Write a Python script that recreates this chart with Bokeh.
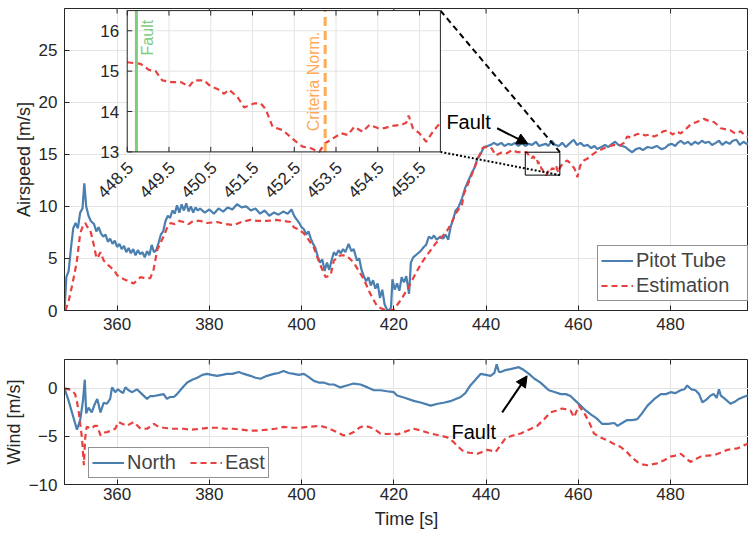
import math
from bokeh.plotting import figure
from bokeh.layouts import column
from bokeh.models import (Range1d, FixedTicker, Legend, LegendItem, Arrow, NormalHead)
from bokeh.core.properties import value
from bokeh.embed import file_html
from bokeh.resources import INLINE

# ---------------------------------------------------------------- data
# Airspeed measured by the pitot tube [m/s]
pitot_t = [348.6, 349.0, 349.5, 350.0, 350.5, 351.0, 351.5, 352.0, 352.5, 352.9, 353.3, 353.8,
           354.3, 355.0, 355.5, 356.0, 356.5, 357.0, 357.5, 358.0, 358.5, 359.0, 359.5, 360.0,
           360.5, 361.0, 361.5, 362.0, 362.5, 363.0, 363.5, 364.0, 364.5, 365.0, 365.5, 366.0,
           366.5, 367.0, 367.5, 368.0, 368.5, 369.0, 369.5, 370.0, 370.5, 371.0, 371.5, 372.0,
           372.5, 373.0, 373.5, 374.0, 374.5, 375.0, 375.5, 376.0, 376.5, 377.0, 377.5, 378.0,
           379.0, 380.0, 381.0, 382.0, 383.0, 384.0, 385.0, 386.0, 387.0, 388.0, 389.0, 390.0,
           391.0, 392.0, 393.0, 394.0, 395.0, 396.0, 397.0, 397.8, 398.5, 399.0, 399.5, 400.0,
           400.5, 401.0, 401.5, 402.0, 402.5, 403.0, 403.5, 404.0, 404.5, 405.0, 405.5, 406.0,
           406.5, 407.0, 407.5, 408.0, 408.5, 409.0, 409.5, 410.2, 410.8, 411.3, 412.0, 412.5,
           413.0, 413.5, 414.0, 414.5, 415.0, 415.5, 416.0, 416.5, 417.0, 417.5, 418.0, 418.5,
           419.0, 419.4, 419.7, 420.2, 420.7, 421.2, 421.7, 422.2, 422.7, 423.3, 423.7, 424.2,
           425.0, 425.8, 426.5, 427.0, 427.6, 428.2, 428.7, 429.3, 430.1, 430.7, 431.2, 431.8,
           432.3, 432.9, 433.4, 434.0, 434.8, 435.5, 436.3, 437.0, 437.5, 438.1, 438.8, 439.5,
           440.3, 441.0, 441.7, 442.5, 443.3, 444.0, 444.8, 445.5, 446.3, 447.0, 447.8, 448.5,
           449.2, 450.0, 450.8, 451.5, 452.2, 453.0, 453.5, 454.2, 455.0, 455.8, 456.5, 457.3,
           458.0, 459.0, 459.7, 460.5, 461.2, 462.0, 462.8, 463.5, 464.1, 465.0, 465.8, 466.5,
           467.3, 468.0, 468.7, 469.5, 470.2, 471.0, 471.7, 472.5, 473.3, 474.0, 475.0, 476.0,
           477.0, 478.0, 478.8, 479.5, 480.3, 481.0, 481.6, 482.2, 483.0, 483.8, 484.5, 485.3,
           486.0, 486.8, 487.5, 488.3, 489.0, 489.8, 490.5, 491.2, 492.0, 492.8, 493.5, 494.3,
           495.0, 495.8, 496.5, 497.0]
pitot_v = [0.0, 3.2, 3.8, 6.0, 7.9, 8.4, 7.9, 9.4, 9.8, 12.2, 10.0, 9.1,
           8.6, 8.3, 7.6, 8.0, 7.4, 7.1, 7.3, 6.6, 6.9, 6.4, 6.7, 6.1,
           6.4, 5.9, 6.2, 5.6, 6.0, 5.5, 5.9, 5.3, 5.8, 5.4, 5.6, 5.1,
           5.7, 5.3, 6.3, 5.6, 5.8, 6.5, 7.3, 7.6, 8.6, 9.1, 8.9, 9.6,
           9.3, 10.1, 9.4, 10.2, 9.6, 10.3, 9.5, 10.0, 9.4, 9.9, 9.6, 9.8,
           9.4, 9.7, 9.3, 9.8, 9.5, 9.9, 9.7, 10.2, 9.9, 10.0, 9.6, 9.8,
           9.3, 9.6, 9.1, 9.4, 9.2, 9.5, 9.3, 9.7, 9.0, 8.7, 8.4, 8.0,
           7.8, 7.3, 7.6, 6.9, 6.4, 6.0, 5.2, 4.6, 4.9, 3.8, 4.6, 3.9,
           4.8, 5.6, 5.3, 5.8, 5.5, 5.9, 5.6, 6.4, 5.7, 5.9, 4.8, 5.0,
           3.9, 3.3, 2.8, 3.2, 2.4, 2.9, 2.1, 2.6, 1.2, 2.0, 0.6, 0.1,
           0.0, 0.3, 3.0, 2.0, 2.6, 1.9, 3.2, 2.7, 3.3, 1.6, 4.6, 5.1,
           5.4, 5.7, 6.1, 6.3, 7.1, 6.9, 7.2, 6.8, 7.1, 6.9, 7.3, 6.8,
           8.0, 8.8, 9.6, 9.9, 10.8, 11.8, 12.6, 13.3, 13.7, 14.6, 15.0, 15.7,
           15.8, 15.9, 16.1, 15.9, 16.1, 15.8, 16.0, 15.9, 16.1, 15.8, 16.1, 15.8,
           16.0, 15.9, 16.2, 15.8, 15.9, 16.0, 15.8, 16.3, 15.9, 15.8, 16.1, 15.7,
           16.0, 16.4, 15.9, 16.1, 15.8, 15.9, 15.6, 15.8, 15.5, 15.7, 15.9, 15.7,
           16.0, 16.2, 15.9, 15.8, 15.7, 15.4, 15.2, 15.5, 15.6, 15.4, 15.7, 15.6,
           15.8, 15.5, 15.6, 15.9, 16.0, 15.8, 16.1, 16.3, 16.0, 16.2, 15.9, 16.2,
           16.0, 16.3, 16.1, 16.2, 15.9, 16.1, 16.3, 15.9, 16.2, 16.0, 16.3, 16.4,
           15.9, 16.2, 16.0, 16.1]

# Estimated airspeed [m/s]
est_t = [348.8, 349.5, 350.2, 350.8, 351.3, 352.0, 352.5, 353.1, 353.6, 354.2, 354.9, 355.4,
         355.7, 356.4, 357.1, 358.2, 359.3, 360.0, 360.7, 361.5, 362.5, 363.6, 364.3, 365.1,
         366.0, 367.2, 367.9, 368.7, 369.4, 370.1, 370.8, 371.6, 372.5, 373.5, 374.4, 375.5,
         376.5, 378.1, 379.5, 381.7, 383.5, 385.3, 387.0, 388.9, 390.5, 392.5, 394.5, 396.1,
         397.6, 398.3, 399.3, 400.5, 401.5, 402.6, 403.5, 404.5, 405.2, 406.3, 407.0, 408.4,
         409.5, 410.4, 411.3, 412.4, 413.5, 414.9, 416.4, 417.8, 419.0, 420.0, 421.5, 422.9,
         424.3, 425.8, 427.0, 428.0, 429.0, 430.1, 431.6, 432.5, 433.4, 434.8, 435.2, 436.5,
         438.1, 439.2, 440.2, 441.0, 442.1, 443.5, 444.5, 445.7, 446.8, 447.8,
         448.50, 448.66, 448.82, 449.02, 449.18, 449.34, 449.54, 449.78, 449.98, 450.10,
         450.34, 450.50, 450.66, 450.82, 450.94, 451.14, 451.30, 451.54, 451.70, 451.82,
         451.98, 452.22, 452.50, 452.70, 452.90, 453.10, 453.22, 453.42, 453.62, 453.78,
         453.94, 454.14, 454.30, 454.50, 454.66, 454.82, 455.06, 455.18, 455.24, 455.34,
         455.50, 455.66, 455.82, 455.98,
         456.3, 456.8, 457.6, 458.4, 459.2, 459.8, 460.4, 461.2, 462.0, 462.8, 464.1, 465.2,
         466.2, 467.7, 468.8, 469.9, 470.6, 471.5, 472.5, 473.5, 474.5, 475.5, 476.4, 477.5,
         478.4, 479.3, 480.5, 481.3, 482.2, 483.3, 484.2, 485.1, 486.2, 487.2, 488.3, 489.4,
         490.2, 490.9, 492.0, 493.0, 494.0, 495.2, 496.2, 497.0]
est_v = [0.0, 0.9, 2.3, 3.6, 4.8, 7.4, 8.0, 8.4, 8.0, 7.7, 6.4, 5.3,
         5.0, 5.6, 4.8, 4.3, 3.9, 3.4, 3.2, 3.0, 2.8, 2.6, 2.9, 3.2,
         3.1, 3.1, 3.9, 5.8, 6.5, 7.1, 7.9, 8.4, 8.3, 8.6, 8.5, 8.3,
         8.6, 8.6, 8.4, 8.5, 8.3, 8.2, 8.5, 8.7, 8.6, 8.6, 8.7, 8.6,
         8.5, 8.0, 7.8, 7.4, 6.8, 6.1, 5.0, 3.9, 3.2, 3.4, 4.8, 5.3,
         5.3, 5.0, 4.6, 3.8, 3.0, 1.6, 0.4, 0.1, 0.0, 0.1, 1.0, 2.0,
         3.2, 4.4, 5.2, 5.8, 6.4, 6.9, 7.7, 8.4, 9.3, 10.2, 11.2, 12.6,
         14.4, 15.6, 15.7, 15.7, 14.9, 15.2, 15.1, 15.4, 15.2, 15.2,
         15.22, 15.20, 15.18, 15.03, 15.00, 14.77, 14.73, 14.73, 14.62, 14.77,
         14.77, 14.62, 14.56, 14.44, 14.54, 14.36, 14.10, 14.20, 14.20, 14.05,
         13.62, 13.54, 13.29, 13.13, 13.09, 13.00, 13.20, 13.33, 13.46, 13.42,
         13.62, 13.50, 13.67, 13.59, 13.59, 13.64, 13.67, 13.72, 13.90, 13.59,
         13.46, 13.25, 13.50, 13.70,
         13.9, 14.2, 14.4, 14.1, 13.6, 12.8, 13.9, 14.4, 14.6, 14.9, 15.3, 15.5,
         15.7, 15.9, 15.8, 16.1, 16.7, 16.6, 16.9, 17.0, 16.8, 16.9, 16.7, 16.9,
         17.2, 17.3, 16.9, 17.2, 17.0, 17.4, 17.8, 18.0, 18.2, 18.4, 18.2, 18.1,
         17.8, 17.5, 17.4, 17.3, 17.0, 17.2, 16.8, 16.6]

# Estimated wind components [m/s]
north_t = [348.6, 349.5, 350.4, 351.3, 352.0, 352.6, 353.0, 353.3, 353.8, 354.5, 355.2, 355.7,
           356.4, 357.1, 357.8, 358.5, 358.9, 359.6, 360.2, 360.7, 361.3, 361.8, 362.5, 363.3,
           364.3, 365.4, 366.5, 367.2, 368.0, 369.0, 370.1, 370.8, 371.5, 372.3, 373.0, 373.7,
           374.4, 375.2, 376.3, 377.4, 378.5, 379.5, 380.5, 381.7, 382.8, 383.8, 385.0, 386.4,
           387.5, 388.9, 390.0, 391.1, 392.5, 394.0, 395.0, 396.1, 397.2, 398.3, 399.4, 400.5,
           401.5, 402.6, 403.7, 404.8, 406.0, 407.0, 408.4, 409.8, 411.3, 412.8, 414.3, 415.7,
           417.1, 418.5, 420.0, 420.7, 422.5, 424.3, 426.0, 428.0, 429.5, 430.8, 432.5, 434.5,
           435.5, 436.6, 437.7, 438.8, 440.0, 441.0, 441.8, 442.3, 442.8, 443.2, 444.2, 445.3,
           446.2, 447.1, 448.2, 449.3, 450.5, 451.8, 452.7, 453.6, 455.0, 456.2, 457.3, 458.3,
           459.4, 460.5, 461.6, 462.7, 463.9, 465.2, 466.5, 467.8, 468.5, 469.5, 470.6, 471.7,
           472.8, 473.8, 475.0, 476.5, 477.9, 479.0, 480.0, 481.0, 482.2, 483.0, 483.6, 484.5,
           485.4, 486.2, 486.9, 487.7, 488.7, 489.4, 490.0, 490.5, 490.9, 491.8, 493.0, 493.9,
           494.8, 495.8, 496.7]
north_v = [0.0, -1.3, -2.8, -4.3, -3.3, -1.3, 0.9, -2.6, -2.0, -2.5, -1.6, -1.1,
           -2.5, -1.5, -1.6, -1.1, 0.1, -0.4, -0.1, -0.3, -0.5, 0.1, -0.2, -0.4,
           -0.1, -0.6, -1.1, -0.8, -0.8, -0.7, -0.6, -1.1, -0.9, -0.9, -0.6, -0.2,
           0.2, 0.6, 0.9, 1.1, 1.4, 1.5, 1.4, 1.3, 1.4, 1.5, 1.5, 1.7,
           1.5, 1.3, 1.1, 1.0, 1.3, 1.5, 1.6, 1.8, 1.6, 1.5, 1.4, 1.5,
           1.2, 0.8, 0.6, 0.6, 0.4, 0.4, 0.1, 0.3, 0.5, 0.4, 0.1, -0.2,
           -0.2, -0.3, -0.4, -0.75, -1.0, -1.3, -1.5, -1.8, -1.6, -1.5, -1.3, -0.9,
           -0.5, 0.3, 0.9, 1.5, 1.4, 1.3, 1.6, 2.5, 1.7, 1.7, 1.9, 2.0,
           2.1, 2.2, 1.9, 1.5, 1.0, 0.6, 0.2, -0.2, -0.4, -0.6, -0.6, -0.8,
           -1.3, -1.8, -2.3, -2.7, -3.1, -3.7, -3.7, -3.6, -3.9, -3.6, -3.3, -3.3,
           -3.2, -2.6, -1.8, -1.1, -0.6, -0.6, -0.4, -0.5, -0.2, -0.1, 0.3, -0.1,
           -0.2, -0.6, -1.45, -1.2, -0.75, -0.6, -1.0, -0.1, -0.75, -1.1, -1.6, -1.4,
           -1.1, -0.9, -0.75]

east_t = [348.6, 349.5, 350.2, 350.9, 351.3, 351.7, 352.0, 352.4, 352.8, 353.1, 353.4, 354.0,
          354.5, 355.1, 355.7, 356.4, 357.1, 357.8, 358.7, 359.6, 360.3, 361.2, 362.1, 363.6,
          365.1, 366.5, 368.0, 369.0, 370.1, 372.0, 374.4, 376.0, 378.1, 380.0, 381.7, 383.5,
          385.3, 387.0, 388.9, 390.5, 392.5, 394.3, 396.1, 398.0, 399.7, 401.5, 404.0, 405.5,
          407.0, 409.1, 410.2, 411.3, 412.5, 413.5, 414.5, 415.7, 417.1, 418.5, 420.0, 420.7,
          422.5, 424.3, 426.0, 428.0, 430.0, 431.6, 433.0, 434.0, 435.2, 436.5, 438.1, 439.3,
          440.3, 441.3, 442.1, 443.0, 444.2, 445.8, 447.5, 449.3, 451.1, 452.6, 454.0, 455.3,
          456.5, 457.5, 458.3, 459.1, 459.6, 460.1, 461.2, 462.0, 462.7, 463.4, 464.8, 466.3,
          467.8, 469.2, 470.5, 471.6, 472.8, 473.9, 475.0, 476.0, 477.1, 478.5, 480.0, 481.0,
          482.2, 483.2, 484.3, 485.3, 486.5, 488.0, 489.4, 490.8, 492.3, 493.5, 494.5, 495.6,
          496.7]
east_v = [0.0, -0.1, -0.2, -0.6, -1.4, -2.5, -3.7, -5.2, -8.0, -5.1, -4.0, -4.1,
          -4.2, -3.9, -3.9, -4.9, -4.6, -4.55, -4.4, -4.2, -3.5, -3.7, -3.9, -3.5,
          -4.2, -4.2, -3.7, -4.0, -4.1, -4.2, -4.2, -4.3, -4.2, -4.1, -4.1, -4.2,
          -4.2, -4.3, -4.4, -4.4, -4.3, -4.2, -4.0, -4.1, -4.1, -4.0, -3.9, -4.1,
          -4.4, -4.9, -4.8, -4.55, -4.1, -3.9, -4.0, -4.2, -4.7, -4.75, -4.7, -4.8,
          -4.5, -4.2, -4.4, -4.7, -4.9, -5.1, -5.6, -6.1, -6.6, -6.7, -6.8, -6.6,
          -6.4, -6.5, -6.6, -6.0, -5.2, -4.9, -4.7, -4.3, -3.9, -3.2, -2.5, -2.3,
          -2.1, -2.2, -2.3, -3.0, -2.4, -1.8, -2.5, -3.2, -3.9, -4.7, -5.1, -5.4,
          -5.8, -6.1, -6.6, -7.2, -7.65, -7.9, -8.0, -7.9, -7.8, -7.5, -7.1, -7.0,
          -6.8, -7.2, -7.65, -7.4, -7.1, -7.0, -6.95, -6.7, -6.4, -6.3, -6.25, -6.0,
          -5.75]

# Event times [s]
fault_time = 448.72
criteria_time = 453.24

# Axis ticks
time_ticks = [360, 380, 400, 420, 440, 460, 480]
airspeed_ticks = [0, 5, 10, 15, 20, 25]
wind_ticks = [-10, -5, 0]
zoom_x_ticks = [448.5, 449.5, 450.5, 451.5, 452.5, 453.5, 454.5, 455.5]
zoom_y_ticks = [13, 14, 15, 16]

# ---------------------------------------------------------------- style
FONT = "Liberation Sans"
INK = "#262626"
GRID = "#e4e4e4"
BLUE = "#4a7fb0"
RED = "#e8413f"
GREEN = "#7fcc7f"
ORANGE = "#ffaa55"
DASH = "6 4"
LW = 2.2
TICK = 5  # inward tick length, px

X_RANGE = (348.6, 496.9)
AIR_RANGE = (0, 29)
WIND_RANGE = (-10, 3)
WIDTH = 748
LEFT = 64
AIR_FRAME_H = 302
WIND_FRAME_H = 125


def style_axes(p, x_standoff):
    p.outline_line_color = INK
    p.outline_line_width = 1
    p.background_fill_color = "white"
    p.border_fill_color = "white"
    for ax in p.axis:
        ax.major_tick_in = TICK
        ax.major_tick_out = 0
        ax.minor_tick_in = 0
        ax.minor_tick_out = 0
        ax.axis_line_color = INK
        ax.major_tick_line_color = INK
        ax.major_label_text_font = FONT
        ax.major_label_text_font_size = "17px"
        ax.major_label_text_color = INK
        ax.axis_label_text_font = FONT
        ax.axis_label_text_font_size = "18px"
        ax.axis_label_text_font_style = "normal"
        ax.axis_label_text_color = INK
    p.xaxis.major_label_standoff = x_standoff
    p.yaxis.major_label_standoff = 7
    p.yaxis.axis_label_standoff = 2
    p.grid.grid_line_color = GRID
    p.grid.grid_line_width = 1


def add_top_ticks(p, yr, frame_h):
    # box-style tick marks hanging from the upper edge
    d = TICK * (yr[1] - yr[0]) / frame_h
    n = len(time_ticks)
    p.segment(x0=time_ticks, y0=[yr[1]] * n, x1=time_ticks, y1=[yr[1] - d] * n, line_color=INK, line_width=1)


# ---------------------------------------------------------------- airspeed
p1 = figure(width=WIDTH, height=340, x_range=Range1d(*X_RANGE), y_range=Range1d(*AIR_RANGE),
            output_backend="svg", toolbar_location=None,
            min_border_left=LEFT, min_border_right=0, min_border_top=8, min_border_bottom=30)
p1.xaxis.ticker = FixedTicker(ticks=time_ticks)
p1.yaxis.ticker = FixedTicker(ticks=airspeed_ticks)
p1.yaxis.axis_label = "Airspeed [m/s]"
style_axes(p1, 7)
add_top_ticks(p1, AIR_RANGE, AIR_FRAME_H)

r_pitot = p1.line(pitot_t, pitot_v, line_color=BLUE, line_width=LW)
r_est = p1.line(est_t, est_v, line_color=RED, line_width=LW, line_dash=DASH)

# zoom panel: placed in airspeed coordinates, with its own ranges mapped onto the frame
BOX = (362.2, 430.1, 15.23, 28.8)          # left, right, bottom, top (main axes units)
ZX = (448.5, 456.0)
ZY = (13.0, 16.5)
sx = (ZX[1] - ZX[0]) / (BOX[1] - BOX[0])
sy = (ZY[1] - ZY[0]) / (BOX[3] - BOX[2])
p1.extra_x_ranges = {"zx": Range1d(ZX[0] + (X_RANGE[0] - BOX[0]) * sx, ZX[0] + (X_RANGE[1] - BOX[0]) * sx)}
p1.extra_y_ranges = {"zy": Range1d(ZY[0] + (AIR_RANGE[0] - BOX[2]) * sy, ZY[0] + (AIR_RANGE[1] - BOX[2]) * sy)}
Z = dict(x_range_name="zx", y_range_name="zy")

# pixel size of one zoom unit
px_x = (WIDTH - LEFT) / (X_RANGE[1] - X_RANGE[0]) / sx
px_y = AIR_FRAME_H / (AIR_RANGE[1] - AIR_RANGE[0]) / sy

# source rectangle and connector lines
p1.quad(left=[ZX[0]], right=[ZX[1]], bottom=[13.0], top=[15.2], fill_alpha=0, line_color="black", line_width=1)
p1.segment(x0=[BOX[1]], y0=[BOX[3]], x1=[ZX[1]], y1=[15.2], line_color="black", line_width=2, line_dash="6 4")
p1.segment(x0=[BOX[1]], y0=[BOX[2]], x1=[ZX[1]], y1=[13.0], line_color="black", line_width=2, line_dash="2 2")

p1.quad(left=[ZX[0]], right=[ZX[1]], bottom=[ZY[0]], top=[ZY[1]], fill_color="white", line_alpha=0, **Z)
p1.segment(x0=zoom_x_ticks[1:], y0=[ZY[0]] * 7, x1=zoom_x_ticks[1:], y1=[ZY[1]] * 7, line_color=GRID, line_width=1, **Z)
p1.segment(x0=[ZX[0]] * 4, y0=zoom_y_ticks, x1=[ZX[1]] * 4, y1=zoom_y_ticks, line_color=GRID, line_width=1, **Z)

zi = [i for i, t in enumerate(est_t) if ZX[0] <= t <= ZX[1]]
p1.line([est_t[i] for i in zi], [est_v[i] for i in zi], line_color=RED, line_width=LW, line_dash=DASH, **Z)
p1.segment(x0=[fault_time], y0=[ZY[0]], x1=[fault_time], y1=[ZY[1]], line_color=GREEN, line_width=3, **Z)
p1.segment(x0=[criteria_time], y0=[ZY[0]], x1=[criteria_time], y1=[ZY[1]], line_color=ORANGE, line_width=3,
           line_dash="9 5", **Z)
# vertical event labels: "Fault" just right of its line, "Criteria Norm." just left of its line
p1.text(x=[fault_time + 3 / px_x], y=[15.39], text=["Fault"], angle=math.pi / 2, text_align="left",
        text_baseline="top", text_font=value(FONT), text_font_size="16px", text_color=GREEN, **Z)
p1.text(x=[criteria_time - 3 / px_x], y=[13.51], text=["Criteria Norm."], angle=math.pi / 2, text_align="left",
        text_baseline="bottom", text_font=value(FONT), text_font_size="16px", text_color=ORANGE, **Z)

# zoom panel ticks, tick labels and frame
tx = TICK / px_x
ty = TICK / px_y
p1.segment(x0=zoom_x_ticks, y0=[ZY[0]] * 8, x1=zoom_x_ticks, y1=[ZY[0] + ty] * 8, line_color=INK, **Z)
p1.segment(x0=zoom_x_ticks, y0=[ZY[1]] * 8, x1=zoom_x_ticks, y1=[ZY[1] - ty] * 8, line_color=INK, **Z)
p1.segment(x0=[ZX[0]] * 4, y0=zoom_y_ticks, x1=[ZX[0] + tx] * 4, y1=zoom_y_ticks, line_color=INK, **Z)
p1.quad(left=[ZX[0]], right=[ZX[1]], bottom=[ZY[0]], top=[ZY[1]], fill_alpha=0, line_color=INK, line_width=1, **Z)
p1.text(x=zoom_x_ticks, y=[ZY[0]] * 8, text=[f"{t:.1f}" for t in zoom_x_ticks], angle=math.pi / 4,
        text_align="right", text_baseline="middle", x_offset=3, y_offset=13,
        text_font=value(FONT), text_font_size="17px", text_color=INK, **Z)
p1.text(x=[ZX[0]] * 4, y=zoom_y_ticks, text=[str(v) for v in zoom_y_ticks], text_align="right",
        text_baseline="middle", x_offset=-8, text_font=value(FONT), text_font_size="17px", text_color=INK, **Z)

# fault annotation
p1.text(x=[431.4], y=[18.1], text=["Fault"], text_font=value(FONT), text_font_size="20px",
        text_baseline="alphabetic", text_color="black")
p1.add_layout(Arrow(end=NormalHead(size=11, fill_color="black", line_color="black"),
                    x_start=442.4, y_start=17.5, x_end=449.1, y_end=16.0, line_width=2, line_color="black"))

leg1 = Legend(items=[LegendItem(label="Pitot Tube", renderers=[r_pitot]),
                     LegendItem(label="Estimation", renderers=[r_est])],
              location=(533, 9), orientation="vertical", label_text_font=FONT, label_text_font_size="20px",
              glyph_width=32, glyph_height=23, label_height=23, label_width=108, label_standoff=3,
              spacing=2, padding=3, margin=0, border_line_color=INK, border_line_width=1,
              background_fill_color="white", background_fill_alpha=1)
p1.add_layout(leg1)

# ---------------------------------------------------------------- wind
p2 = figure(width=WIDTH, height=195, x_range=p1.x_range, y_range=Range1d(*WIND_RANGE),
            output_backend="svg", toolbar_location=None,
            min_border_left=LEFT, min_border_right=0, min_border_top=19, min_border_bottom=51)
p2.xaxis.ticker = FixedTicker(ticks=time_ticks)
p2.yaxis.ticker = FixedTicker(ticks=wind_ticks)
p2.xaxis.axis_label = "Time [s]"
p2.yaxis.axis_label = "Wind [m/s]"
style_axes(p2, 3)
p2.xaxis.axis_label_standoff = 6
add_top_ticks(p2, WIND_RANGE, WIND_FRAME_H)

r_north = p2.line(north_t, north_v, line_color=BLUE, line_width=LW)
r_east = p2.line(east_t, east_v, line_color=RED, line_width=LW, line_dash=DASH)

p2.text(x=[432.5], y=[-4.55], text=["Fault"], text_font=value(FONT), text_font_size="20px",
        text_baseline="alphabetic", text_color="black")
p2.add_layout(Arrow(end=NormalHead(size=11, fill_color="black", line_color="black"),
                    x_start=443.5, y_start=-2.5, x_end=448.9, y_end=1.3, line_width=2, line_color="black"))

leg2 = Legend(items=[LegendItem(label="North", renderers=[r_north]),
                     LegendItem(label="East", renderers=[r_east])],
              location=(24, 6), orientation="horizontal", label_text_font=FONT, label_text_font_size="20px",
              glyph_width=32, glyph_height=23, label_height=23, label_standoff=3,
              spacing=14, padding=3, margin=0, border_line_color=INK, border_line_width=1,
              background_fill_color="white", background_fill_alpha=1)
p2.add_layout(leg2)

layout = column(p1, p2, spacing=0)
open("out.html", "w").write(file_html(layout, INLINE))
